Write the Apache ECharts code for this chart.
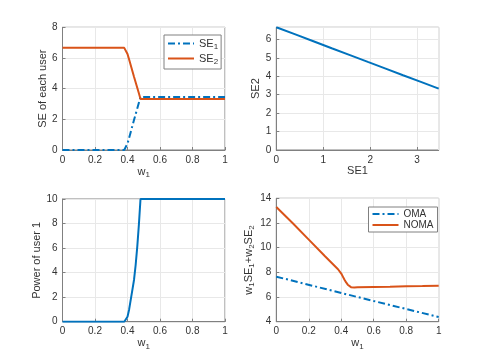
<!DOCTYPE html>
<html>
<head>
<meta charset="utf-8">
<script src="https://cdn.jsdelivr.net/npm/echarts@6/dist/echarts.min.js"></script>
<style>
  html, body { margin: 0; padding: 0; background: #fff; }
  #main { width: 485px; height: 363px; }
</style>
</head>
<body>
<div id="main"></div>
<script>
// weight of user 1
const w1 = [0, 0.1, 0.2, 0.3, 0.38, 0.39, 0.40, 0.41, 0.42, 0.43, 0.44, 0.45, 0.46, 0.47, 0.48, 0.49, 0.5, 0.6, 0.7, 0.8, 0.9, 1.0];
// SE of each user
const se1 = [0, 0, 0, 0, 0, 0.04, 0.42, 0.79, 1.18, 1.57, 1.95, 2.33, 2.70, 3.08, 3.46, 3.46, 3.46, 3.46, 3.46, 3.46, 3.46, 3.46];
const se2 = [6.66, 6.66, 6.66, 6.66, 6.66, 6.62, 6.26, 5.9, 5.52, 5.15, 4.78, 4.42, 4.06, 3.7, 3.33, 3.33, 3.33, 3.33, 3.33, 3.33, 3.33, 3.33];
// power of user 1
const power1 = [0, 0, 0, 0, 0, 0, 0.4, 1.0, 1.8, 2.6, 3.4, 4.6, 6.1, 7.9, 10, 10, 10, 10, 10, 10, 10, 10];
// weighted sum
const noma = [13.3, 12.0, 10.65, 9.3, 8.25, 8.12, 7.9, 7.65, 7.4, 7.18, 7.0, 6.87, 6.8, 6.78, 6.78, 6.78, 6.79, 6.82, 6.84, 6.87, 6.89, 6.92];
const omaW = [0, 0.5, 1];
const oma = [7.65, 6.0, 4.38];

const BLUE = '#0072BD';
const ORANGE = '#D95319';
const FONT = 'Liberation Sans';
const AXIS_COLOR = '#808080';
const TEXT_COLOR = '#333';

const pairs = (xs, ys) => xs.map((x, i) => [x, ys[i]]);

// subscript rich styles
const RICH = {
  n: { fontSize: 11, fontFamily: FONT, color: TEXT_COLOR },
  s: { fontSize: 8, fontFamily: FONT, color: TEXT_COLOR, verticalAlign: 'bottom', padding: [7, 0, 0, 0] }
};

function axis(idx, opt) {
  return Object.assign({
    type: 'value',
    gridIndex: idx,
    nameLocation: 'middle',
    nameTextStyle: { fontSize: 11, fontFamily: FONT, color: TEXT_COLOR, rich: RICH },
    axisLine: { show: true, onZero: false, lineStyle: { color: AXIS_COLOR, width: 1 } },
    axisTick: { show: true, inside: true, length: 3, lineStyle: { color: AXIS_COLOR } },
    axisLabel: { fontSize: 10, fontFamily: FONT, color: TEXT_COLOR, margin: 5 },
    splitLine: { show: true, lineStyle: { color: '#e8e8e8', width: 1 } }
  }, opt);
}

const gridBox = { show: true, borderColor: AXIS_COLOR, borderWidth: 1, backgroundColor: '#fff' };

function legendBox(opt) {
  return Object.assign({
    orient: 'vertical',
    itemWidth: 26, itemHeight: 10,
    backgroundColor: '#fff', borderColor: AXIS_COLOR, borderWidth: 1, borderRadius: 0,
    // hide the symbol, keep the line
    itemStyle: { opacity: 0 }
  }, opt);
}

const chart = echarts.init(document.getElementById('main'));
chart.setOption({
  animation: false,
  textStyle: { fontFamily: FONT },
  grid: [
    Object.assign({ left: 62.5, top: 27.3, width: 162.5, height: 122.7 }, gridBox),
    Object.assign({ left: 276.3, top: 27.3, width: 162.4, height: 122.7 }, gridBox),
    Object.assign({ left: 62.5, top: 199, width: 162.5, height: 122.7 }, gridBox),
    Object.assign({ left: 276.3, top: 198.3, width: 162.4, height: 123.4 }, gridBox)
  ],
  xAxis: [
    axis(0, { min: 0, max: 1, interval: 0.2, name: '{n|w}{s|1}', nameGap: 14 }),
    axis(1, { min: 0, max: 3.46, interval: 1, name: 'SE1', nameGap: 15,
      axisLabel: { fontSize: 10, fontFamily: FONT, color: TEXT_COLOR, margin: 5, showMaxLabel: false } }),
    axis(2, { min: 0, max: 1, interval: 0.2, name: '{n|w}{s|1}', nameGap: 14 }),
    axis(3, { min: 0, max: 1, interval: 0.2, name: '{n|w}{s|1}', nameGap: 14 })
  ],
  yAxis: [
    axis(0, { min: 0, max: 8, interval: 2, name: 'SE of each user', nameGap: 11 }),
    axis(1, { min: 0, max: 6.66, interval: 1, name: 'SE2', nameGap: 10,
      axisLabel: { fontSize: 10, fontFamily: FONT, color: TEXT_COLOR, margin: 5, showMaxLabel: false } }),
    axis(2, { min: 0, max: 10, interval: 2, name: 'Power of user 1', nameGap: 16 }),
    axis(3, { min: 4, max: 14, interval: 2, name: '{n|w}{s|1}{n|SE}{s|1}{n|+w}{s|2}{n|SE}{s|2}', nameGap: 16 })
  ],
  legend: [
    legendBox({
      data: ['SE1', 'SE2'],
      left: 164, top: 35,
      itemGap: 2,
      padding: [3, 3, 3, 3],
      formatter: (name) => '{n|SE}{s|' + name.slice(2) + '}',
      textStyle: { fontSize: 11, fontFamily: FONT, color: TEXT_COLOR, rich: RICH }
    }),
    legendBox({
      data: ['OMA', 'NOMA'],
      left: 368.5, top: 207,
      itemGap: 1,
      padding: [2, 4, 2, 3],
      textStyle: { fontSize: 10, fontFamily: FONT, color: TEXT_COLOR }
    })
  ],
  series: [
    {
      name: 'SE1', type: 'line', xAxisIndex: 0, yAxisIndex: 0, symbol: 'none',
      data: pairs(w1, se1),
      lineStyle: { color: BLUE, width: 2, type: [7, 3, 2, 3] }, itemStyle: { color: BLUE }
    },
    {
      name: 'SE2', type: 'line', xAxisIndex: 0, yAxisIndex: 0, symbol: 'none',
      data: pairs(w1, se2),
      lineStyle: { color: ORANGE, width: 2 }, itemStyle: { color: ORANGE }
    },
    {
      name: 'region', type: 'line', xAxisIndex: 1, yAxisIndex: 1, symbol: 'none',
      data: pairs(se1, se2),
      lineStyle: { color: BLUE, width: 2 }, itemStyle: { color: BLUE }
    },
    {
      name: 'power', type: 'line', xAxisIndex: 2, yAxisIndex: 2, symbol: 'none',
      data: pairs(w1, power1),
      lineStyle: { color: BLUE, width: 2 }, itemStyle: { color: BLUE }
    },
    {
      name: 'OMA', type: 'line', xAxisIndex: 3, yAxisIndex: 3, symbol: 'none',
      data: pairs(omaW, oma),
      lineStyle: { color: BLUE, width: 2, type: [7, 3, 2, 3] }, itemStyle: { color: BLUE }
    },
    {
      name: 'NOMA', type: 'line', xAxisIndex: 3, yAxisIndex: 3, symbol: 'none',
      data: pairs(w1, noma),
      lineStyle: { color: ORANGE, width: 2 }, itemStyle: { color: ORANGE }
    }
  ]
});
</script>
</body>
</html>
